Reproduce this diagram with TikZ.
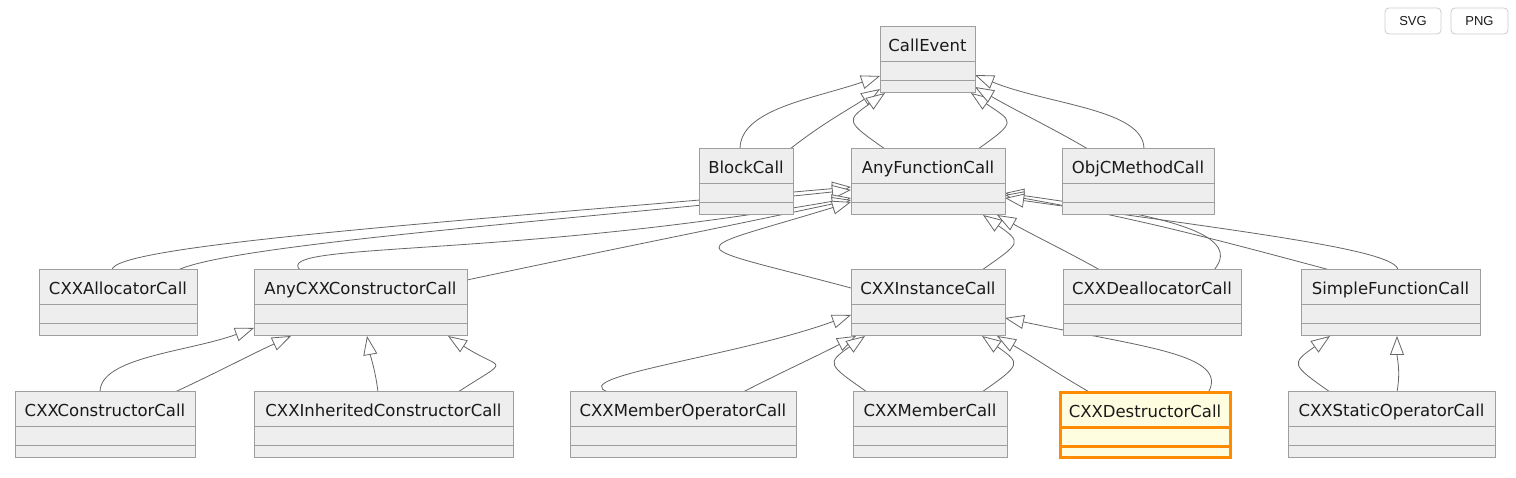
\documentclass[tikz,border=0pt]{standalone}
\usepackage{fontspec}
\setmainfont{DejaVu Sans}
\newfontfamily\btnfont{Liberation Sans}
\usetikzlibrary{arrows.meta,backgrounds}
\definecolor{BoxFill}{HTML}{EEEEEE}
\definecolor{BoxLine}{HTML}{9E9E9E}
\definecolor{EdgeGray}{HTML}{666666}
\definecolor{HiFill}{HTML}{FFFDE0}
\definecolor{HiLine}{HTML}{FF8C00}
\definecolor{TextDark}{HTML}{1A1A1A}
\definecolor{BtnLine}{HTML}{CCCCCC}
% the two empty compartments of a class box
\newcommand{\classrules}[2]{%
  \draw[#1, line width=#2]
    ([yshift=-35pt]path picture bounding box.north west) -- ([yshift=-35pt]path picture bounding box.north east)
    ([yshift=-54pt]path picture bounding box.north west) -- ([yshift=-54pt]path picture bounding box.north east);}

\begin{document}
\begin{tikzpicture}[x=1pt, y=1pt,
  classbox/.style={draw=BoxLine, fill=BoxFill, line width=1pt, anchor=north west,
    inner sep=0pt, outer sep=0pt, text height=25pt, text depth=41pt, text=TextDark,
    font=\fontsize{16.5}{19}\selectfont, path picture={\classrules{BoxLine}{1pt}}},
  focusbox/.style={classbox, draw=HiLine, fill=HiFill, line width=3pt, text depth=40pt,
    path picture={\classrules{HiLine}{3pt}}},
  inherit/.style={draw=EdgeGray, line width=0.8pt, -{Triangle[length=19pt,width=14pt,fill=white]}},
  btn/.style={draw=BtnLine, fill=white, rounded corners=4pt, line width=0.8pt, minimum height=26pt,
    inner sep=0pt, text=TextDark, font=\btnfont\fontsize{13}{15}\selectfont}]
  \useasboundingbox (0,0) rectangle (1516,478);

  % row 1 and 2
  \node[classbox, minimum width=95pt] (callevent) at (880,451) {CallEvent};
  \node[classbox, minimum width=94pt] (blockcall) at (699,329) {BlockCall};
  \node[classbox, minimum width=154pt] (anyfunc) at (851,329) {AnyFunctionCall};
  \node[classbox, minimum width=152pt] (objc) at (1062,329) {ObjCMethodCall};
  % row 3
  \node[classbox, minimum width=158pt] (alloc) at (39,208) {CXXAllocatorCall};
  \node[classbox, minimum width=213pt] (anyctor) at (254,208) {AnyCXXConstructorCall};
  \node[classbox, minimum width=154pt] (instance) at (851,208) {CXXInstanceCall};
  \node[classbox, minimum width=178pt] (dealloc) at (1063,208) {CXXDeallocatorCall};
  \node[classbox, minimum width=179pt] (simplefn) at (1301,208) {SimpleFunctionCall};
  % row 4
  \node[classbox, minimum width=180pt] (ctor) at (15,86) {CXXConstructorCall};
  \node[classbox, minimum width=259pt] (inhctor) at (254,86) {CXXInheritedConstructorCall};
  \node[classbox, minimum width=226pt] (memberop) at (570,86) {CXXMemberOperatorCall};
  \node[classbox, minimum width=154pt] (member) at (853,86) {CXXMemberCall};
  \node[focusbox, minimum width=170pt] (dtor) at (1060,85) {CXXDestructorCall};
  \node[classbox, minimum width=207pt] (staticop) at (1288,86) {CXXStaticOperatorCall};

  \node[btn, minimum width=56pt] (svgbtn) at (1413,457) {SVG};
  \node[btn, minimum width=57pt] (pngbtn) at (1479.5,457) {PNG};

  \begin{scope}[on background layer]
    \fill[white] (0,0) rectangle (1516,478);
    % to CallEvent
    \draw[inherit] ([xshift=41pt]blockcall.north west) to[out=90,in=199,out distance=40pt,in distance=70pt] ([yshift=-49pt]callevent.north west);
    \draw[inherit] ([xshift=91pt]blockcall.north west) to[out=38,in=213] ([yshift=-62pt]callevent.north west);
    \draw[inherit] ([xshift=34pt]anyfunc.north west) to[out=145,in=215,distance=48pt] ([xshift=5pt]callevent.south west);
    \draw[inherit] ([xshift=127pt]anyfunc.north west) to[out=35,in=-35,distance=50pt] ([xshift=-4pt]callevent.south east);
    \draw[inherit] ([xshift=82pt]objc.north west) to[out=90,in=-22,out distance=40pt,in distance=80pt] ([yshift=-48pt]callevent.north east);
    \draw[inherit] ([xshift=26pt]objc.north west) to[out=150,in=-30] ([yshift=-60pt]callevent.north east);
    % to AnyFunctionCall
    \draw[inherit] ([xshift=73pt]alloc.north west) to[out=90,in=185,out distance=25pt,in distance=400pt] ([yshift=-38pt]anyfunc.north west);
    \draw[inherit] ([xshift=139pt]alloc.north west) to[out=25,in=186,out distance=60pt,in distance=300pt] ([yshift=-41pt]anyfunc.north west);
    \draw[inherit] ([xshift=46pt]anyctor.north west) to[out=135,in=190,out distance=40pt,in distance=350pt] ([yshift=-49pt]anyfunc.north west);
    \draw[inherit] ([yshift=-10pt]anyctor.north east) to[out=12,in=192] ([yshift=-51pt]anyfunc.north west);
    \draw[inherit] ([yshift=-18pt]instance.north west) to[out=165,in=197,distance=180pt] ([yshift=-53pt]anyfunc.north west);
    \draw[inherit] ([xshift=131pt]instance.north west) to[out=35,in=-35,distance=48pt] ([xshift=132pt]anyfunc.south west);
    \draw[inherit] ([xshift=37pt]dealloc.north west) to[out=151,in=-29] ([xshift=-8pt]anyfunc.south east);
    \draw[inherit] ([xshift=151pt]dealloc.north west) to[out=50,in=-8,out distance=50pt,in distance=150pt] ([yshift=-44pt]anyfunc.north east);
    \draw[inherit] ([xshift=29pt]simplefn.north west) to[out=165,in=-10] ([yshift=-46pt]anyfunc.north east);
    \draw[inherit] ([xshift=97pt]simplefn.north west) to[out=95,in=-8,out distance=20pt,in distance=250pt] ([yshift=-49pt]anyfunc.north east);
    % to AnyCXXConstructorCall
    \draw[inherit] ([xshift=85pt]ctor.north west) to[out=90,in=200,out distance=35pt,in distance=70pt] ([yshift=-58pt]anyctor.north west);
    \draw[inherit] ([xshift=160pt]ctor.north west) to[out=25,in=205] ([xshift=37pt]anyctor.south west);
    \draw[inherit] ([xshift=124pt]inhctor.north west) to[out=97,in=-80] ([xshift=113pt]anyctor.south west);
    \draw[inherit] ([xshift=204pt]inhctor.north west) to[out=33,in=-33,distance=65pt] ([xshift=194pt]anyctor.south west);
    % to CXXInstanceCall
    \draw[inherit] ([xshift=38pt]memberop.north west) to[out=160,in=200,out distance=45pt,in distance=120pt] ([yshift=-45pt]instance.north west);
    \draw[inherit] ([xshift=173pt]memberop.north west) to[out=27,in=207] ([xshift=5pt]instance.south west);
    \draw[inherit] ([xshift=14pt]member.north west) to[out=145,in=215,distance=48pt] ([xshift=14pt]instance.south west);
    \draw[inherit] ([xshift=129pt]member.north west) to[out=35,in=-35,distance=48pt] ([xshift=131pt]instance.south west);
    \draw[inherit] ([xshift=31pt]dtor.north west) to[out=150,in=-30] ([xshift=-8pt]instance.south east);
    \draw[inherit] ([xshift=148pt]dtor.north west) to[out=60,in=-12,out distance=45pt,in distance=140pt] ([yshift=-48pt]instance.north east);
    % to SimpleFunctionCall
    \draw[inherit] ([xshift=42pt]staticop.north west) to[out=145,in=215,distance=48pt] ([xshift=29pt]simplefn.south west);
    \draw[inherit] ([xshift=109pt]staticop.north west) to[out=80,in=-90] ([xshift=96pt]simplefn.south west);
  \end{scope}
\end{tikzpicture}
\end{document}
